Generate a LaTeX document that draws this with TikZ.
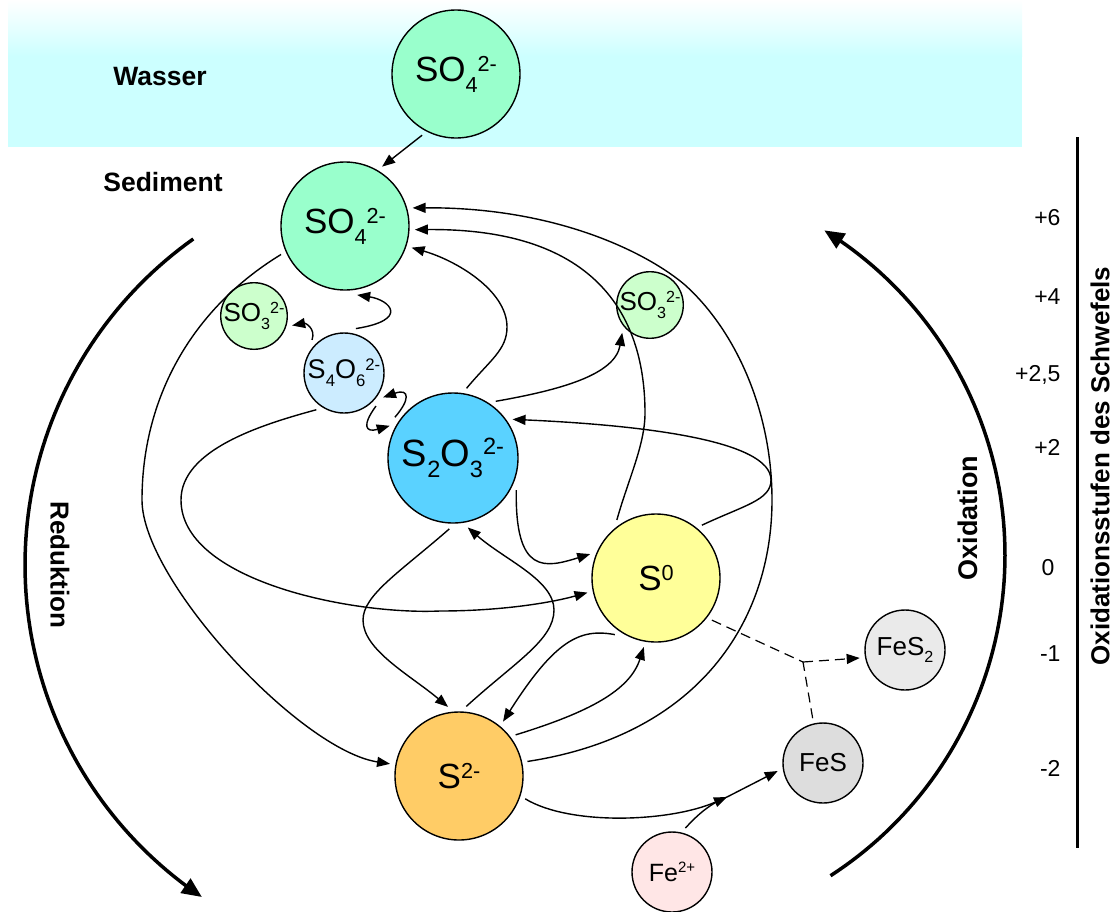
\documentclass[tikz,border=0pt]{standalone}
\usepackage{fontspec}
\setmainfont{Liberation Sans}
\usepackage{graphicx}
\usetikzlibrary{arrows.meta}
\definecolor{watercol}{RGB}{204,255,255}
\definecolor{sulfate}{RGB}{153,255,204}
\definecolor{sulfite}{RGB}{204,255,204}
\definecolor{tetra}{RGB}{204,236,255}
\definecolor{thio}{RGB}{90,210,255}
\definecolor{sulfur}{RGB}{255,255,153}
\definecolor{sulfide}{RGB}{255,204,102}
\definecolor{pyrite}{RGB}{234,234,234}
\definecolor{fesc}{RGB}{221,221,221}
\definecolor{ironc}{RGB}{255,230,230}
\newcommand\chsub[1]{\raisebox{-0.3em}{\scalebox{0.62}{#1}}}
\newcommand\chsup[1]{\raisebox{0.3em}{\scalebox{0.62}{#1}}}
\newcommand\fsz[1]{\fontsize{#1}{#1}\selectfont}
\begin{document}
\begin{tikzpicture}[x=1pt,y=-1pt,
  spec/.style={circle, draw, line width=1.4pt, inner sep=0pt, outer sep=6pt, text=black},
  bigspec/.style={spec, minimum size=128pt, font=\fsz{35}},
  midspec/.style={spec, minimum size=80pt},
  smallspec/.style={spec, minimum size=66pt, font=\fsz{26}},
  conn/.style={line width=1.4pt, -{Triangle[length=13pt,width=10pt]}},
  plain/.style={line width=1.4pt},
  dashline/.style={line width=1.2pt, dash pattern=on 10pt off 6pt},
  bigarc/.style={line width=3.5pt, -{Triangle[length=20pt,width=17pt]}},
  lbl/.style={font=\bfseries\fsz{26.5}},
  axlbl/.style={anchor=east, font=\fsz{23}},
  rotlbl/.style={font=\bfseries\fsz{26}}
]
\useasboundingbox (0,0) rectangle (1116,911);
% water band
\fill[watercol] (8,55) rectangle (1022,147);
\shade[top color=white, bottom color=watercol] (8,0) rectangle (1022,56);

% labels
\node[lbl] (wasser) at (160,77) {Wasser};
\node[lbl] (sediment) at (163,182) {Sediment};

% species
\node[bigspec, fill=sulfate] (W) at (456,74) {SO\chsub{4}\chsup{2-}};
\node[bigspec, fill=sulfate] (A) at (345,226) {SO\chsub{4}\chsup{2-}};
\node[smallspec, fill=sulfite] (L) at (254,316) {SO\chsub{3}\chsup{2-}};
\node[midspec, fill=tetra, font=\fsz{27}] (T) at (344,373) {S\chsub{4}O\chsub{6}\chsup{2-}};
\node[spec, minimum size=130pt, fill=thio, font=\fsz{38}] (B) at (453,458) {S\chsub{2}O\chsub{3}\chsup{2-}};
\node[smallspec, fill=sulfite] (R) at (650,305) {SO\chsub{3}\chsup{2-}};
\node[bigspec, fill=sulfur] (Z) at (656,578) {S\chsup{0}};
\node[bigspec, fill=sulfide] (S) at (459,776) {S\chsup{2-}};
\node[midspec, fill=pyrite, font=\fsz{26}] (P) at (905,650) {FeS\chsub{2}};
\node[midspec, fill=fesc, font=\fsz{26}] (F) at (823,763) {FeS};
\node[midspec, fill=ironc, font=\fsz{25}] (I) at (672,872) {Fe\raisebox{0.36em}{\scalebox{0.6}{2+}}};

\coordinate (J1) at (727,797);
\coordinate (J2) at (803,662);

% connectors
\draw[conn] (W.241) -- (A.58);
\draw[conn] (S.12) .. controls (700,735) and (772,620) .. (772,500)
  .. controls (772,410) and (735,330) .. (685,285)
  .. controls (650,255) and (560,207) .. (A.15);
\draw[conn] (Z.124) .. controls (628,480) and (645,445) .. (645,413)
  .. controls (645,320) and (600,228) .. (A.-3);
\draw[conn] (B.79) .. controls (490,360) and (507,350) .. (507,327)
  .. controls (507,290) and (455,260) .. (A.-18);
\draw[conn] (A.204) .. controls (190,310) and (142,400) .. (142,500)
  .. controls (142,580) and (300,750) .. (S.170);
\draw[conn] (T.134) .. controls (316,328) and (305,323) .. (L.-14);
\draw[conn] (T.75) .. controls (410,320) and (390,300) .. (A.-80);
\draw[conn] (B.145) .. controls (410,400) and (410,388) .. (T.-32);
\draw[conn] (T.-46) .. controls (362,425) and (365,433) .. (B.153);
\draw[conn] (T.233) .. controls (260,425) and (181,450) .. (181,500)
  .. controls (181,580) and (350,615) .. (440,611)
  .. controls (500,611) and (550,603) .. (Z.192);
\draw[conn] (B.53) .. controls (560,390) and (615,375) .. (R.225);
\draw[conn] (Z.49) .. controls (745,505) and (771,500) .. (771,480)
  .. controls (771,440) and (640,425) .. (B.33);
\draw[conn] (B.-27) .. controls (515,575) and (545,568) .. (Z.160);
\draw[conn] (B.267) .. controls (400,572) and (363,595) .. (363,620)
  .. controls (363,650) and (410,675) .. (S.99);
\draw[conn] (S.84) .. controls (515,662) and (554,640) .. (554,610)
  .. controls (554,580) and (505,560) .. (B.-78);
\draw[conn] (Z.234) .. controls (580,628) and (555,640) .. (S.51);
\draw[conn] (S.36) .. controls (590,712) and (630,690) .. (Z.260);
\draw[conn] (S.-19) .. controls (570,826) and (670,822) .. (J1);
\draw[plain] (I.73) .. controls (700,812) and (712,803) .. (J1);
\draw[conn] (J1) -- (F.190);
\draw[dashline] (Z.-37) -- (J2);
\draw[dashline] (F.103) -- (J2);
\draw[dashline, -{Triangle[length=13pt,width=10pt]}] (J2) -- (P.190);

% big arcs
\draw[bigarc] plot[domain=234.6:123.9, samples=90] ({425+400*cos(\x)},{565+400*sin(\x)});
\draw[bigarc] plot[domain=57.1:-58.2, samples=90] ({623+382*cos(\x)},{555+382*sin(\x)});
\node[rotlbl, rotate=-90] (red) at (60,565) {Reduktion};
\node[rotlbl, rotate=90, font=\bfseries\fsz{27}] (ox) at (968,518) {Oxidation};

% axis
\draw[line width=3pt] (1077,137) -- (1077,848);
\node[axlbl] (l6) at (1064,218) {+6};
\node[axlbl] (l4) at (1064,297) {+4};
\node[axlbl] (l25) at (1064,375) {+2,5};
\node[axlbl] (l2) at (1064,447) {+2};
\node[axlbl] (l0) at (1058,568) {0};
\node[axlbl] (lm1) at (1064,654) {-1};
\node[axlbl] (lm2) at (1064,768) {-2};
\node[rotlbl, rotate=90] (axis) at (1100,466) {Oxidationsstufen des Schwefels};
\end{tikzpicture}
\end{document}
